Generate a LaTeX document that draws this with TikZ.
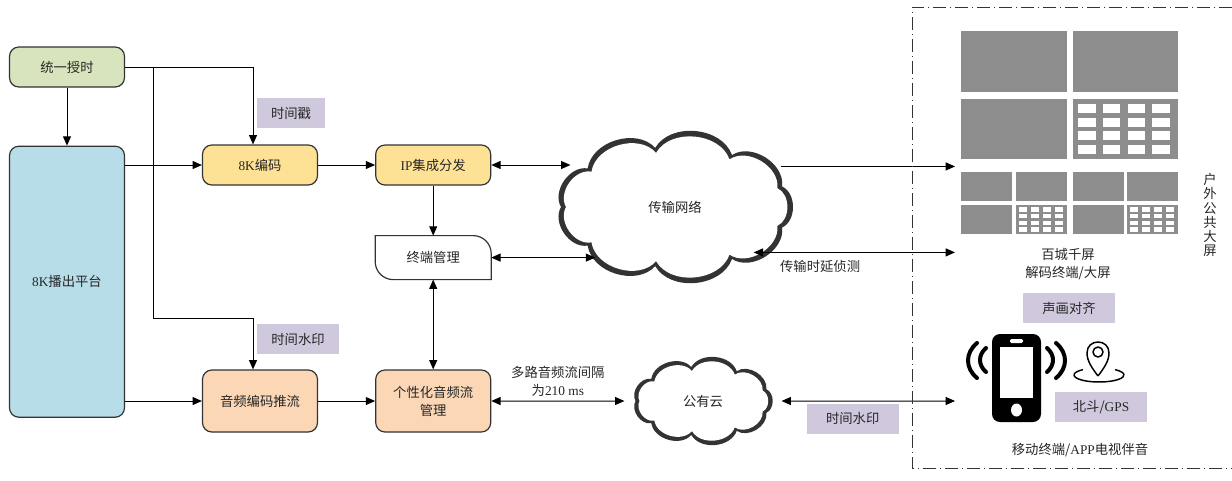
\documentclass[tikz,border=0pt]{standalone}
\usepackage{fontspec}
\setmainfont{Noto Sans CJK SC}
\newfontfamily\tnr{Liberation Serif}
\usepackage{tikz}
\usetikzlibrary{positioning,arrows.meta,shapes.symbols}

\definecolor{syncgreen}{RGB}{215,228,189}
\definecolor{platblue}{RGB}{183,221,232}
\definecolor{encyellow}{RGB}{253,226,150}
\definecolor{audiopeach}{RGB}{251,215,182}
\definecolor{taglilac}{RGB}{208,201,222}
\definecolor{wallgray}{RGB}{141,141,141}
\definecolor{inkgray}{RGB}{51,51,51}

% 4x4 white windows inside a screen: x0, y0, w, h
\newcommand{\cellgrid}[4]{%
  \foreach \i in {0,...,3}
    \foreach \j in {0,...,3}
      \fill[white] ({#1+#3*(0.05+0.235*\i)},{#2+#4*(0.08+0.23*\j)})
        rectangle ++({#3*0.165},{#4*0.15});
}
% thick cloud outline as a ring: cx, cy, a, b, ring width
\newcommand{\puffcloud}[5]{%
  \fill[inkgray] ({#1+#3*cos(20)},{#2+#4*sin(20)})
    \foreach \k in {1,...,9} { to[bend left=65] ({#1+#3*cos(20+40*\k)},{#2+#4*sin(20+40*\k)}) } -- cycle;
  \fill[white] ({#1+(#3-#5)*cos(20)},{#2+(#4-#5)*sin(20)})
    \foreach \k in {1,...,9} { to[bend left=65] ({#1+(#3-#5)*cos(20+40*\k)},{#2+(#4-#5)*sin(20+40*\k)}) } -- cycle;
}

\begin{document}
\begin{tikzpicture}[x=0.75pt, y=-0.75pt, line width=0.75pt,
  > = {Triangle[length=7pt,width=6pt]},
  font=\fontsize{10}{13.5}\selectfont,
  every node/.append style={text=black!85},
  box/.style={draw=inkgray, line width=0.9pt, rounded corners=7pt, minimum width=86.25pt, minimum height=30pt, align=center, inner sep=2pt},
  tag/.style={fill=taglilac, minimum width=69pt, minimum height=22pt, inner sep=0pt},
  puffy/.style={cloud, cloud puffs=9, cloud ignores aspect, inner sep=0pt}]
\useasboundingbox (0,0) rectangle (1232,480);

\node (time) [box, fill=syncgreen] at (67,67) {统一授时};
\node (platform) [box, fill=platblue, minimum height=203.25pt, below=43.5pt of time] {{\tnr 8K}播出平台};

\node (enc) [box, fill=encyellow] at (260,165) {{\tnr 8K}编码};
\node (ip) [box, fill=encyellow, right=42.75pt of enc] {{\tnr IP}集成分发};
\node (term) [minimum width=86.25pt, minimum height=32.25pt, below=37.5pt of ip] {终端管理};
\draw[inkgray, line width=0.9pt] (term.north west) -- ([xshift=-13.5pt]term.north east)
  arc[start angle=90, end angle=0, radius=13.5pt] -- (term.south east)
  -- ([xshift=13.5pt]term.south west) arc[start angle=270, end angle=180, radius=13.5pt] -- cycle;

\node (audio) [box, fill=audiopeach, minimum height=46.5pt] at (260,401) {音频编码推流};
\node (pers) [box, fill=audiopeach, minimum height=46.5pt, right=42.75pt of audio] {个性化音频流\\管理};

\puffcloud{675}{207}{114}{60}{5}
\puffcloud{703}{401}{67.5}{34.5}{4}
\node (net) [puffy, minimum width=196pt, minimum height=112pt] at (675,207) {传输网络};
\node (pub) [puffy, minimum width=118pt, minimum height=68pt] at (703,401) {公有云};

\node (stamp) [tag, minimum width=51pt] at (291,113) {时间戳};
\node (mark) [tag, minimum width=62pt] at (298,339) {时间水印};

\coordinate (bend) at (153,318);
\coordinate (wall) at (955,170);
\coordinate (mob) at (955,398);

\draw[->] (time) -- (platform);
\draw[->] (time.east) -| ([xshift=-5.25pt]enc.north);
\draw[->] (time.east -| bend) -- (bend) -| ([xshift=-5.25pt]audio.north);
\draw[->] (platform.east |- enc) -- (enc);
\draw[->] (platform.east |- audio) -- (audio);
\draw[->] (enc) -- (ip);
\draw[->] (audio) -- (pers);
\draw[->] (ip) -- (term);
\draw[<->] (term) -- (pers);
\draw[<->] (ip.east) -- (ip.east -| net.158);
\draw[<->] (term.east) -- (term.east -| net.208);
\draw[->] (net.21) -- (net.21 -| wall);
\draw[<->] (net.-30) -- (net.-30 -| wall) node[pos=.33, below=2pt] {传输时延侦测};
\draw[<->] (pers) -- (pub) node[midway, above, align=center] {多路音频流间隔\\为{\tnr 210 ms}};
\draw[<->] (pub) -- (pub -| mob) node[tag, pos=.41, below=2pt] {时间水印};

% outdoor screens
\draw[inkgray, dash pattern=on 9.75pt off 3pt on 0.75pt off 3pt] (1232,7) -- (912,7) -- (912,468) -- (1232,468);
\fill[wallgray] (961,31) rectangle (1067,92);
\fill[wallgray] (1073,31) rectangle (1178,92);
\fill[wallgray] (961,99) rectangle (1067,159);
\fill[wallgray] (1073,99) rectangle (1178,159);
\foreach \x in {961,1016,1073,1127}
  \foreach \y in {172,205}
    \fill[wallgray] (\x,\y) rectangle ++(51,29);
\cellgrid{1073}{99}{105}{60}
\cellgrid{1016}{205}{51}{29}
\cellgrid{1127}{205}{51}{29}

\node (wallname) [align=center] at (1068,264) {百城千屏\\解码终端/大屏};
\node (outdoor) [align=center, font={\fontsize{10}{10.6}\selectfont\lineskiplimit=-20pt}] at (1210,215) {户\\外\\公\\共\\大\\屏};
\node (sync) [tag] at (1069,308) {声画对齐};

% phone
\fill[black, rounded corners=6pt] (992,334) rectangle (1041,422);
\fill[white] (1000,347) rectangle (1033,398);
\fill[white, rounded corners=1pt] (1010,339) rectangle (1023,343);
\fill[white] (1016.5,410) ellipse [x radius=5.5, y radius=6.5];
\draw[line width=3pt, line cap=round] (977,343) .. controls (965,353) and (965,368) .. (977,378);
\draw[line width=3pt, line cap=round] (986,348) .. controls (978,355) and (978,365) .. (986,372);
\draw[line width=3pt, line cap=round] (1047,348) .. controls (1055,355) and (1055,365) .. (1047,372);
\draw[line width=3pt, line cap=round] (1056,343) .. controls (1068,353) and (1068,368) .. (1056,378);

% location pin
\draw[line width=1.1pt] (1098,376) .. controls (1092,368) and (1087,361) .. (1087,353)
  .. controls (1087,346) and (1092,342) .. (1098,342)
  .. controls (1104,342) and (1109,346) .. (1109,353)
  .. controls (1109,361) and (1104,368) .. (1098,376);
\draw[line width=1.1pt] (1098,352) circle[radius=5];
\draw[line width=1.1pt] ({1099+25*cos(-50)},{375+7*sin(-50)}) arc[start angle=-50, end angle=230, x radius=25, y radius=7];

\node (gps) [tag] at (1101,407) {北斗/{\tnr GPS}};
\node (mobname) at (1080,450) {移动终端/{\tnr APP}电视伴音};
\end{tikzpicture}
\end{document}
